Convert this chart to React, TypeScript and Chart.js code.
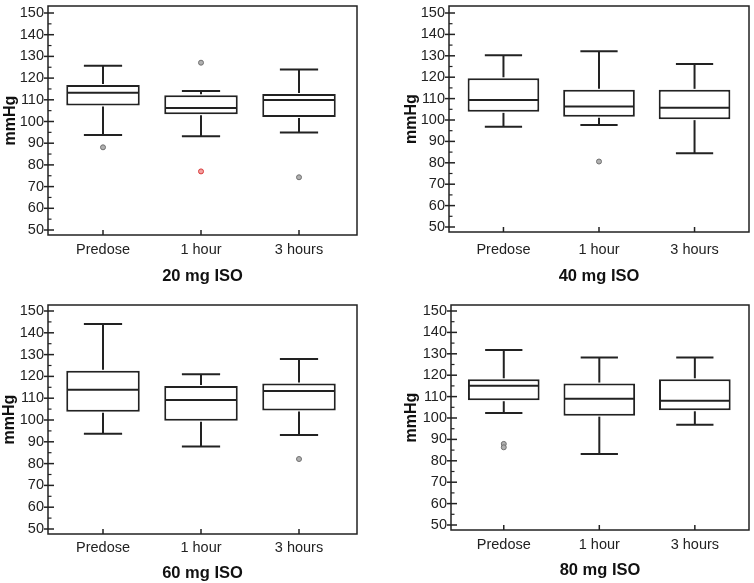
import React, { useEffect, useRef } from "react";
import { Chart, registerables } from "chart.js";

Chart.register(...registerables);

// ---------- data ----------
const categories = ["Predose", "1 hour", "3 hours"];
const yTickValues = [50, 60, 70, 80, 90, 100, 110, 120, 130, 140, 150];
const yMinorTickValues = [55, 65, 75, 85, 95, 105, 115, 125, 135, 145];

// 20 mg ISO
const iso20Min = [93.8, 93.2, 94.9];
const iso20Q1 = [107.4, 103.3, 102.1];
const iso20Median = [113.3, 106.2, 109.9];
const iso20Q3 = [116.8, 112.1, 112.7];
const iso20Max = [125.7, 114.1, 124.0];
const iso20OutlierCat = [0, 1, 2];
const iso20OutlierVal = [88.1, 127.1, 74.3];
const iso20FlaggedCat = [1];
const iso20FlaggedVal = [77.0];

// 40 mg ISO
const iso40Min = [96.8, 97.7, 84.5];
const iso40Q1 = [103.8, 101.5, 100.4];
const iso40Median = [109.4, 106.3, 105.7];
const iso40Q3 = [119.5, 114.1, 114.1];
const iso40Max = [130.2, 132.1, 126.2];
const iso40OutlierCat = [1];
const iso40OutlierVal = [80.6];
const iso40FlaggedCat: number[] = [];
const iso40FlaggedVal: number[] = [];

// 60 mg ISO
const iso60Min = [93.7, 87.9, 93.1];
const iso60Q1 = [103.8, 99.7, 104.4];
const iso60Median = [113.9, 109.2, 113.3];
const iso60Q3 = [122.6, 115.6, 116.7];
const iso60Max = [144.0, 121.0, 128.0];
const iso60OutlierCat = [2];
const iso60OutlierVal = [82.1];
const iso60FlaggedCat: number[] = [];
const iso60FlaggedVal: number[] = [];

// 80 mg ISO
const iso80Min = [102.3, 83.2, 96.9];
const iso80Q1 = [108.3, 101.1, 103.6];
const iso80Median = [115.1, 109.0, 108.1];
const iso80Q3 = [118.1, 116.1, 118.1];
const iso80Max = [131.8, 128.3, 128.3];
const iso80OutlierCat = [0, 0];
const iso80OutlierVal = [87.9, 86.3];
const iso80FlaggedCat: number[] = [];
const iso80FlaggedVal: number[] = [];

// ---------- layout / style ----------
const FONT = "'Liberation Sans', Arial, Helvetica, sans-serif";
const INK = "#222222";

type Panel = {
  title: string;
  min: number[]; q1: number[]; median: number[]; q3: number[]; max: number[];
  outCat: number[]; outVal: number[]; flagCat: number[]; flagVal: number[];
  left: number; top: number; width: number; height: number;
  plotLeft: number; plotRight: number; plotTop: number; plotBottom: number;
  y150: number; y50: number; c1: number; c3: number;
  yTitleX: number; labelY: number; titleY: number;
};

const panels: Panel[] = [
  {
    title: "20 mg ISO",
    min: iso20Min, q1: iso20Q1, median: iso20Median, q3: iso20Q3, max: iso20Max,
    outCat: iso20OutlierCat, outVal: iso20OutlierVal, flagCat: iso20FlaggedCat, flagVal: iso20FlaggedVal,
    left: 0, top: 0, width: 377, height: 290,
    plotLeft: 48, plotRight: 357, plotTop: 6, plotBottom: 235,
    y150: 13, y50: 230, c1: 103, c3: 299,
    yTitleX: 11, labelY: 250, titleY: 276,
  },
  {
    title: "40 mg ISO",
    min: iso40Min, q1: iso40Q1, median: iso40Median, q3: iso40Q3, max: iso40Max,
    outCat: iso40OutlierCat, outVal: iso40OutlierVal, flagCat: iso40FlaggedCat, flagVal: iso40FlaggedVal,
    left: 377, top: 0, width: 377, height: 290,
    plotLeft: 449, plotRight: 752, plotTop: 6, plotBottom: 232,
    y150: 13, y50: 227, c1: 504, c3: 697,
    yTitleX: 411.5, labelY: 250, titleY: 276,
  },
  {
    title: "60 mg ISO",
    min: iso60Min, q1: iso60Q1, median: iso60Median, q3: iso60Q3, max: iso60Max,
    outCat: iso60OutlierCat, outVal: iso60OutlierVal, flagCat: iso60FlaggedCat, flagVal: iso60FlaggedVal,
    left: 0, top: 290, width: 377, height: 293,
    plotLeft: 48, plotRight: 357, plotTop: 305, plotBottom: 534,
    y150: 311, y50: 529, c1: 103, c3: 299,
    yTitleX: 10, labelY: 548.3, titleY: 573.3,
  },
  {
    title: "80 mg ISO",
    min: iso80Min, q1: iso80Q1, median: iso80Median, q3: iso80Q3, max: iso80Max,
    outCat: iso80OutlierCat, outVal: iso80OutlierVal, flagCat: iso80FlaggedCat, flagVal: iso80FlaggedVal,
    left: 377, top: 290, width: 377, height: 293,
    plotLeft: 451, plotRight: 752, plotTop: 305, plotBottom: 530,
    y150: 311, y50: 525, c1: 504.3, c3: 697.3,
    yTitleX: 411.5, labelY: 545, titleY: 570,
  },
];

const BAR_FRACTION = 0.75;
const CAP_HALF = 0.195;

const boxPlugin = {
  id: "boxplot",
  afterDatasetsDraw(chart: any, _args: any, opts: any) {
    const { ctx, chartArea } = chart;
    const xs = chart.scales.x;
    const ys = chart.scales.y;
    ctx.save();
    ctx.strokeStyle = INK;
    ctx.lineCap = "butt";
    const line = (x1: number, y1: number, x2: number, y2: number) => {
      ctx.beginPath();
      ctx.moveTo(x1, y1);
      ctx.lineTo(x2, y2);
      ctx.stroke();
    };
    ctx.lineWidth = 2;
    (opts.min as number[]).forEach((mn: number, i: number) => {
      const v = i + 1;
      const cx = xs.getPixelForValue(v);
      const capL = xs.getPixelForValue(v - CAP_HALF);
      const capR = xs.getPixelForValue(v + CAP_HALF);
      const bL = xs.getPixelForValue(v - BAR_FRACTION / 2) + 1;
      const bR = xs.getPixelForValue(v + BAR_FRACTION / 2) - 1;
      const yMax = ys.getPixelForValue(opts.max[i]);
      const yQ3 = ys.getPixelForValue(opts.q3[i]);
      const yQ1 = ys.getPixelForValue(opts.q1[i]);
      const yMin = ys.getPixelForValue(mn);
      const yMed = ys.getPixelForValue(opts.median[i]);
      line(cx, yQ3 - 1, cx, yMax);
      line(capL, yMax, capR, yMax);
      line(cx, yQ1 + 1, cx, yMin);
      line(capL, yMin, capR, yMin);
      line(bL, yMed, bR, yMed);
    });
    // frame
    ctx.lineWidth = 1.5;
    ctx.strokeRect(chartArea.left, chartArea.top, chartArea.right - chartArea.left, chartArea.bottom - chartArea.top);
    // y ticks
    yTickValues.forEach((t) => {
      const y = ys.getPixelForValue(t);
      line(chartArea.left - 4, y, chartArea.left + 6, y);
    });
    ctx.lineWidth = 1.2;
    yMinorTickValues.forEach((t) => {
      const y = ys.getPixelForValue(t);
      line(chartArea.left, y, chartArea.left + 3.5, y);
    });
    // x ticks
    ctx.lineWidth = 1.5;
    categories.forEach((_c, i) => {
      const x = xs.getPixelForValue(i + 1);
      line(x, chartArea.bottom, x, chartArea.bottom - 5);
    });
    ctx.restore();
  },
};

function PanelChart({ p }: { p: Panel }) {
  const ref = useRef<HTMLCanvasElement | null>(null);
  useEffect(() => {
    if (!ref.current) return;
    const yPx = (p.y50 - p.y150) / 100;
    const yMax = 150 + (p.y150 - p.plotTop) / yPx;
    const yMin = 50 - (p.plotBottom - p.y50) / yPx;
    const sp = (p.c3 - p.c1) / 2;
    const xMin = 1 - (p.c1 - p.plotLeft) / sp;
    const xMax = 3 + (p.plotRight - p.c3) / sp;
    const yTitleLH = 16 * 1.2;
    const padLeft = p.yTitleX - p.left - yTitleLH / 2;
    const yWidth = p.plotLeft - p.left - padLeft;
    const padTop = p.plotTop - p.top;
    const padRight = p.left + p.width - p.plotRight;
    const xHeight = p.top + p.height - p.plotBottom;
    const tickLH = 14.5 * 1.2;
    const xTickPad = p.labelY - p.plotBottom - tickLH / 2;
    const xTitleLH = 16.5 * 1.2;
    const xTitlePad = Math.max(0, p.top + p.height - p.titleY - xTitleLH / 2);

    const chart = new Chart(ref.current, {
      type: "bar",
      data: {
        datasets: [
          {
            type: "bar",
            data: p.q1.map((q, i) => ({ x: i + 1, y: [q, p.q3[i]] })) as any,
            backgroundColor: "#ffffff",
            borderColor: INK,
            borderWidth: 2,
            borderSkipped: false,
            categoryPercentage: 1,
            barPercentage: BAR_FRACTION,
          } as any,
          {
            type: "scatter",
            data: p.outCat.map((c, i) => ({ x: c + 1, y: p.outVal[i] })),
            pointRadius: 2.5,
            pointBackgroundColor: "#b0b0b0",
            pointBorderColor: "#707070",
            pointBorderWidth: 1,
          } as any,
          {
            type: "scatter",
            data: p.flagCat.map((c, i) => ({ x: c + 1, y: p.flagVal[i] })),
            pointRadius: 2.5,
            pointBackgroundColor: "#f4a0a0",
            pointBorderColor: "#d83a3a",
            pointBorderWidth: 1,
          } as any,
        ],
      },
      options: {
        animation: false,
        responsive: false,
        maintainAspectRatio: false,
        devicePixelRatio: 1,
        events: [],
        layout: { padding: { left: padLeft, top: padTop, right: padRight, bottom: 0 } },
        plugins: {
          legend: { display: false },
          tooltip: { enabled: false },
          boxplot: { min: p.min, q1: p.q1, median: p.median, q3: p.q3, max: p.max },
        } as any,
        scales: {
          x: {
            type: "linear",
            offset: false,
            min: xMin,
            max: xMax,
            grid: { display: false, drawTicks: false, offset: false },
            border: { display: false },
            afterBuildTicks: (s: any) => {
              s.ticks = categories.map((_c, i) => ({ value: i + 1 }));
            },
            afterFit: (s: any) => {
              s.height = xHeight;
              s.paddingLeft = 0; s.paddingRight = 0; s.paddingTop = 0; s.paddingBottom = 0;
            },
            ticks: {
              autoSkip: false,
              maxRotation: 0,
              padding: xTickPad,
              color: INK,
              font: { family: FONT, size: 14.5 },
              callback: (v: any) => categories[Math.round(Number(v)) - 1] ?? "",
            },
            title: {
              display: true,
              text: p.title,
              color: "#111111",
              font: { family: FONT, size: 16.5, weight: "bold" },
              padding: { top: 0, bottom: xTitlePad },
            },
          },
          y: {
            type: "linear",
            min: yMin,
            max: yMax,
            grid: { display: false, drawTicks: false },
            border: { display: false },
            afterBuildTicks: (s: any) => {
              s.ticks = yTickValues.map((v) => ({ value: v }));
            },
            afterFit: (s: any) => {
              s.width = yWidth;
              s.paddingLeft = 0; s.paddingRight = 0; s.paddingTop = 0; s.paddingBottom = 0;
            },
            ticks: {
              autoSkip: false,
              padding: 4,
              color: INK,
              font: { family: FONT, size: 14.5 },
              callback: (v: any) => String(v),
            },
            title: {
              display: true,
              text: "mmHg",
              color: "#111111",
              font: { family: FONT, size: 16, weight: "bold" },
              padding: { top: 0, bottom: 0 },
            },
          },
        },
      } as any,
      plugins: [boxPlugin as any],
    });
    return () => chart.destroy();
  }, [p]);
  return (
    <canvas
      ref={ref}
      width={p.width}
      height={p.height}
      style={{ position: "absolute", left: p.left, top: p.top, width: p.width, height: p.height }}
    />
  );
}

export default function App() {
  return (
    <div
      style={{
        position: "absolute",
        left: 0,
        top: 0,
        width: 754,
        height: 583,
        background: "#ffffff",
        overflow: "hidden",
      }}
    >
      {panels.map((p) => (
        <PanelChart key={p.title} p={p} />
      ))}
    </div>
  );
}
